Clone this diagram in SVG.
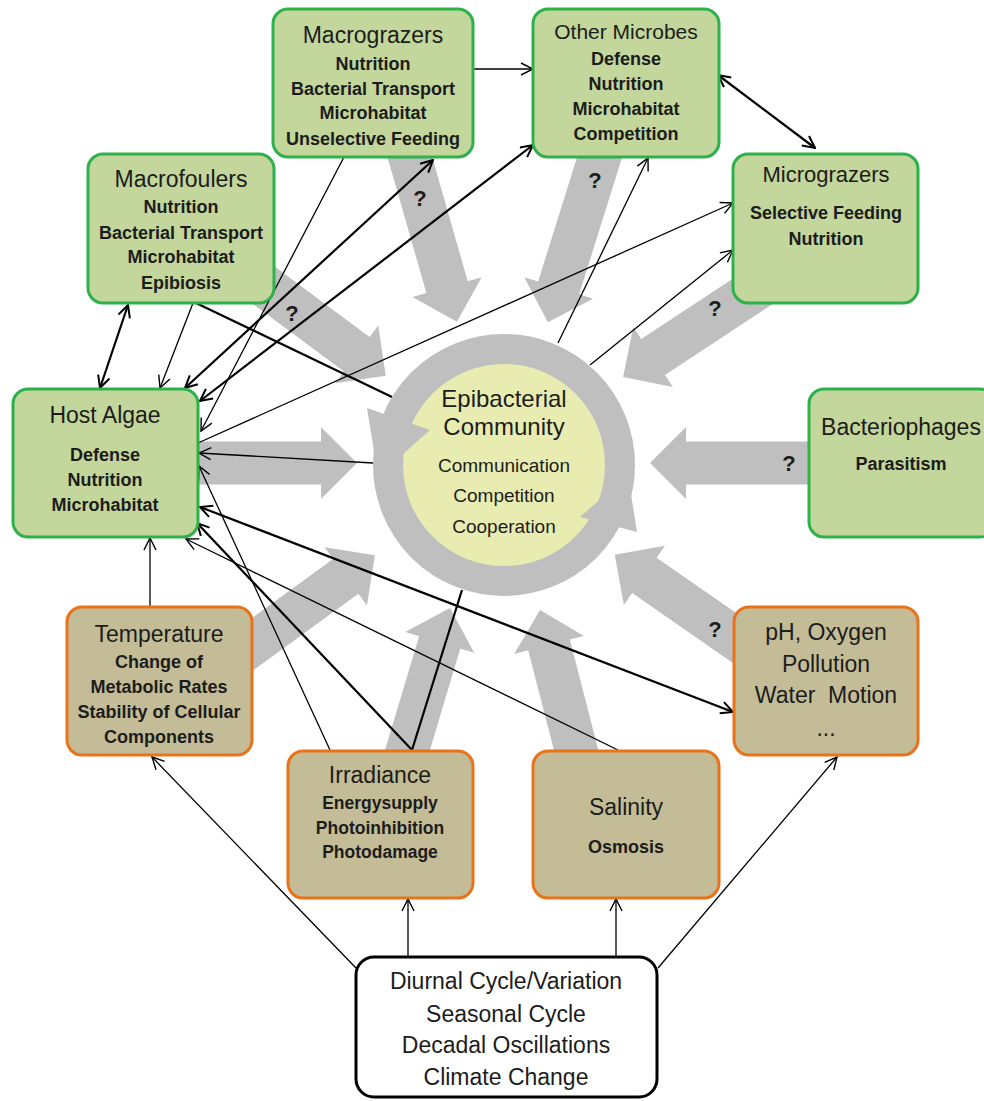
<svg xmlns="http://www.w3.org/2000/svg" width="984" height="1101" viewBox="0 0 984 1101">
<style>
text{font-family:"Liberation Sans",Arial,sans-serif;text-anchor:middle;fill:#1c1c1c}
.t{font-size:23px}
.b{font-size:18px;font-weight:bold}
.q{font-size:22px;font-weight:bold}
.c{font-size:19px}
.g rect{fill:#c3d69b;stroke:#2eb14b;stroke-width:3}
.o rect{fill:#c4bc96;stroke:#e8731b;stroke-width:3}
.w rect{fill:#fff;stroke:#000;stroke-width:3}
.ga path{fill:#bfbfbf}
.thin{stroke:#000;stroke-width:1.3;fill:none;marker-end:url(#ah)}
.thick{stroke:#000;stroke-width:2.2;fill:none}
.ta{marker-end:url(#ahk)}
.dbl{marker-start:url(#ahk);marker-end:url(#ahk)}
</style>
<defs>
<marker id="ah" viewBox="0 0 14 14" refX="13" refY="7" markerWidth="14" markerHeight="14" markerUnits="userSpaceOnUse" orient="auto-start-reverse"><path d="M1,1 L13,7 L1,13" fill="none" stroke="#000" stroke-width="1.4"/></marker>
<marker id="ahk" viewBox="0 0 14 14" refX="13" refY="7" markerWidth="14" markerHeight="14" markerUnits="userSpaceOnUse" orient="auto-start-reverse"><path d="M1,1 L13,7 L1,13" fill="none" stroke="#000" stroke-width="2"/></marker>
</defs>
<rect width="984" height="1101" fill="#fff"/>
<g id="influence-arrows" class="ga">
<path transform="translate(405,140) rotate(74.05)" d="M0,-21.5H153V-36L189,0L153,36V21.5H0Z"/>
<path transform="translate(605,140) rotate(107.4)" d="M0,-21.5H155V-36L191,0L155,36V21.5H0Z"/>
<path transform="translate(250,275) rotate(36.6)" d="M0,-21.5H133V-36L169,0L133,36V21.5H0Z"/>
<path transform="translate(770,280) rotate(146.6)" d="M0,-21.5H140V-36L176,0L140,36V21.5H0Z"/>
<path transform="translate(190,463)" d="M0,-21.5H131V-36L167,0L131,36V21.5H0Z"/>
<path transform="translate(815,463) rotate(180)" d="M0,-21.5H129V-36L165,0L129,36V21.5H0Z"/>
<path transform="translate(235,657) rotate(-36.07)" d="M0,-21.5H137V-36L173,0L137,36V21.5H0Z"/>
<path transform="translate(403,765) rotate(-73.33)" d="M0,-21.5H128V-36L164,0L128,36V21.5H0Z"/>
<path transform="translate(580,765) rotate(-104.47)" d="M0,-21.5H124V-36L160,0L124,36V21.5H0Z"/>
<path transform="translate(752,650) rotate(-145.27)" d="M0,-21.5H131V-36L167,0L131,36V21.5H0Z"/>
</g>
<g id="question-marks">
<text class="q" x="420" y="206">?</text>
<text class="q" x="595" y="188">?</text>
<text class="q" x="292" y="321">?</text>
<text class="q" x="715" y="316">?</text>
<text class="q" x="789" y="471">?</text>
<text class="q" x="715" y="637">?</text>
</g>
<g id="connectors">
<line class="thin" x1="473" y1="69" x2="533" y2="69"/>
<line class="thin" x1="193" y1="303" x2="160" y2="388"/>
<line class="thin" x1="344" y1="157" x2="201" y2="431"/>
<line class="thin" x1="373" y1="463" x2="199" y2="453"/>
<line class="thin" x1="198" y1="443" x2="733" y2="203"/>
<line class="thin" x1="558" y1="343" x2="648" y2="158"/>
<line class="thin" x1="590" y1="365" x2="733" y2="250"/>
<line class="thin" x1="150" y1="607" x2="150" y2="538"/>
<line class="thin" x1="330" y1="750" x2="199" y2="466"/>
<line class="thin" x1="618" y1="750" x2="186" y2="539"/>
<line class="thin" x1="356" y1="968" x2="152" y2="757"/>
<line class="thin" x1="408" y1="957" x2="408" y2="899"/>
<line class="thin" x1="616" y1="957" x2="616" y2="899"/>
<line class="thin" x1="658" y1="968" x2="837" y2="757"/>
<line class="thick dbl" x1="128" y1="305" x2="100" y2="388"/>
<line class="thick" x1="196" y1="303" x2="392" y2="397"/>
<line class="thick dbl" x1="185" y1="388" x2="433" y2="160"/>
<line class="thick dbl" x1="200" y1="401" x2="533" y2="145"/>
<line class="thick dbl" x1="718" y1="75" x2="815" y2="148"/>
<line class="thick ta" x1="412" y1="750" x2="197" y2="523"/>
<line class="thick" x1="412" y1="750" x2="462" y2="590"/>
<line class="thick dbl" x1="200" y1="507" x2="733" y2="712"/>
</g>
<g id="epibacterial-community">
<circle cx="504" cy="465" r="102" fill="#e8ecb0"/>
<circle cx="504" cy="465" r="116" fill="none" stroke="#bfbfbf" stroke-width="30"/>
<polygon points="367,408 430,430 378,476" fill="#bfbfbf"/>
<polygon points="637,532 580,517 628,475" fill="#bfbfbf"/>
<text x="504" y="407" style="font-size:24px">Epibacterial</text>
<text x="504" y="435" style="font-size:24px">Community</text>
<text class="c" x="504" y="472">Communication</text>
<text class="c" x="504" y="502">Competition</text>
<text class="c" x="504" y="533">Cooperation</text>
</g>
<g id="macrograzers" class="g">
<rect x="273" y="9" width="200" height="148" rx="15"/>
<text class="t" x="373" y="43">Macrograzers</text>
<text class="b" x="373" y="70">Nutrition</text>
<text class="b" x="373" y="95">Bacterial Transport</text>
<text class="b" x="373" y="119">Microhabitat</text>
<text class="b" x="373" y="145">Unselective Feeding</text>
</g>
<g id="other-microbes" class="g">
<rect x="533" y="9" width="186" height="148" rx="15"/>
<text x="626" y="39" style="font-size:21px">Other Microbes</text>
<text class="b" x="626" y="65">Defense</text>
<text class="b" x="626" y="90">Nutrition</text>
<text class="b" x="626" y="115">Microhabitat</text>
<text class="b" x="626" y="140">Competition</text>
</g>
<g id="macrofoulers" class="g">
<rect x="88" y="154" width="186" height="149" rx="15"/>
<text class="t" x="181" y="187">Macrofoulers</text>
<text class="b" x="181" y="213">Nutrition</text>
<text class="b" x="181" y="239">Bacterial Transport</text>
<text class="b" x="181" y="263">Microhabitat</text>
<text class="b" x="181" y="289">Epibiosis</text>
</g>
<g id="micrograzers" class="g">
<rect x="733" y="154" width="185" height="149" rx="15"/>
<text x="826" y="182" style="font-size:22px">Micrograzers</text>
<text class="b" x="826" y="219">Selective Feeding</text>
<text class="b" x="826" y="245">Nutrition</text>
</g>
<g id="host-algae" class="g">
<rect x="13" y="389" width="185" height="148" rx="15"/>
<text class="t" x="105" y="423">Host Algae</text>
<text class="b" x="105" y="461">Defense</text>
<text class="b" x="105" y="486">Nutrition</text>
<text class="b" x="105" y="511">Microhabitat</text>
</g>
<g id="bacteriophages" class="g">
<rect x="809" y="389" width="186" height="148" rx="15"/>
<text class="t" x="901" y="435">Bacteriophages</text>
<text class="b" x="901" y="470">Parasitism</text>
</g>
<g id="temperature" class="o">
<rect x="67" y="607" width="185" height="148" rx="15"/>
<text class="t" x="159" y="642">Temperature</text>
<text class="b" x="159" y="668">Change of</text>
<text class="b" x="159" y="693">Metabolic Rates</text>
<text class="b" x="159" y="718">Stability of Cellular</text>
<text class="b" x="159" y="743">Components</text>
</g>
<g id="ph-oxygen" class="o">
<rect x="734" y="607" width="184" height="148" rx="15"/>
<text class="t" x="826" y="640">pH, Oxygen</text>
<text class="t" x="826" y="672">Pollution</text>
<text class="t" x="826" y="703" xml:space="preserve">Water  Motion</text>
<text class="t" x="826" y="736">...</text>
</g>
<g id="irradiance" class="o">
<rect x="288" y="751" width="185" height="147" rx="15"/>
<text class="t" x="380" y="783">Irradiance</text>
<text class="b" x="380" y="809" style="font-size:17.5px">Energysupply</text>
<text class="b" x="380" y="834" style="font-size:17.5px">Photoinhibition</text>
<text class="b" x="380" y="858" style="font-size:17.5px">Photodamage</text>
</g>
<g id="salinity" class="o">
<rect x="533" y="751" width="186" height="147" rx="15"/>
<text class="t" x="626" y="815">Salinity</text>
<text class="b" x="626" y="853">Osmosis</text>
</g>
<g id="cycles" class="w">
<rect x="356" y="957" width="301" height="140" rx="18"/>
<text class="t" x="506" y="989">Diurnal Cycle/Variation</text>
<text class="t" x="506" y="1022">Seasonal Cycle</text>
<text class="t" x="506" y="1053">Decadal Oscillations</text>
<text class="t" x="506" y="1085">Climate Change</text>
</g>
</svg>
